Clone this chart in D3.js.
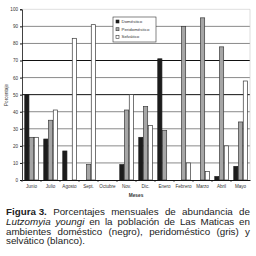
<!DOCTYPE html>
<html>
<head>
<meta charset="utf-8">
<script src="https://cdn.jsdelivr.net/npm/d3@7"></script>
<style>
  body { margin: 0; background: #fff; }
  svg { display: block; font-family: "Liberation Sans", Arial, sans-serif; }
</style>
</head>
<body>
<svg id="chart" width="256" height="256"></svg>
<script>
// monthly percentages
var months = ["Junio", "Julio", "Agosto", "Sept.", "Octubre", "Nov.", "Dic.", "Enero", "Febrero", "Marzo", "Abril", "Mayo"];
var seriesNames = ["Doméstico", "Peridoméstico", "Selvático"];
var domestico     = [50, 24, 17, 0, 0, 9, 25, 71, 0, 0, 2, 8];
var peridomestico = [25, 35, 0, 9, 0, 41, 43, 29, 90, 95, 78, 34];
var selvatico     = [25, 41, 83, 91, 0, 50, 32, 0, 10, 5, 20, 58];
var yTicks = [0, 10, 20, 30, 40, 50, 60, 70, 80, 90, 100];

var fills = ["#1c1c1c", "#a6a6a6", "#ffffff"];
var strokes = ["#1c1c1c", "#3a3a3a", "#3a3a3a"];
var values = [domestico, peridomestico, selvatico];

var svg = d3.select("#chart");
var plotL = 22, plotR = 250, plotT = 9.3, plotB = 180;

var x0 = d3.scaleBand().domain(months).range([plotL, plotR]).paddingInner(0.25).paddingOuter(0.125);
var x1 = d3.scaleBand().domain(d3.range(3)).range([0, x0.bandwidth()]);
var y = d3.scaleLinear().domain([0, 100]).range([plotB, plotT]);

// grid (the scan has a couple of darker lines)
var darkLines = [50, 70];
svg.append("g").selectAll("line").data(yTicks.filter(function(t) { return t > 0; }))
  .enter().append("line")
  .attr("x1", plotL).attr("x2", plotR)
  .attr("y1", function(d) { return y(d); }).attr("y2", function(d) { return y(d); })
  .attr("stroke", function(d) { return d == 100 ? "#c8c8c8" : (darkLines.indexOf(d) >= 0 ? "#111" : "#8a8a8a"); })
  .attr("stroke-width", function(d) { return d == 100 ? 0.6 : 1; });

svg.append("line").attr("x1", plotR).attr("x2", plotR).attr("y1", plotT).attr("y2", plotB)
  .attr("stroke", "#c8c8c8").attr("stroke-width", 0.6);

// bars
var groups = svg.append("g").selectAll("g").data(months).enter().append("g")
  .attr("transform", function(d) { return "translate(" + x0(d) + ",0)"; });

groups.selectAll("rect")
  .data(function(d, i) { return values.map(function(v, s) { return {s: s, v: v[i]}; }).filter(function(e) { return e.v > 0; }); })
  .enter().append("rect")
  .attr("x", function(d) { return x1(d.s) + 0.4; })
  .attr("width", x1.bandwidth() - 0.6)
  .attr("y", function(d) { return y(d.v); })
  .attr("height", function(d) { return y(0) - y(d.v); })
  .attr("fill", function(d) { return fills[d.s]; })
  .attr("stroke", function(d) { return strokes[d.s]; })
  .attr("stroke-width", 0.7);

// y axis
var yAxis = d3.axisLeft(y).tickValues(yTicks).tickSize(2).tickPadding(2);
var gy = svg.append("g").attr("transform", "translate(" + plotL + ",0)").call(yAxis);
gy.select(".domain").attr("stroke", "#111").attr("stroke-width", 0.8);
gy.selectAll(".tick line").attr("stroke", "#111");
gy.selectAll("text").attr("font-size", 4.6).attr("fill", "#333");

// x axis
var xAxis = d3.axisBottom(x0).tickSize(0).tickPadding(5);
var gx = svg.append("g").attr("transform", "translate(0," + plotB + ")").call(xAxis);
gx.select(".domain").attr("stroke", "#111").attr("stroke-width", 1);
gx.selectAll("text").attr("font-size", 4.6).attr("fill", "#333");
gx.selectAll(".sep").data(months).enter().append("line")
  .attr("class", "sep")
  .attr("x1", function(d) { return x0(d) - x0.step() * 0.125; })
  .attr("x2", function(d) { return x0(d) - x0.step() * 0.125; })
  .attr("y1", 0).attr("y2", 2).attr("stroke", "#111").attr("stroke-width", 0.7);

svg.append("text").attr("x", 136).attr("y", 197).attr("text-anchor", "middle")
  .attr("font-size", 4.8).attr("font-weight", "bold").attr("fill", "#333").text("Meses");
svg.append("text").attr("transform", "translate(8,95) rotate(-90)").attr("text-anchor", "middle")
  .attr("font-size", 4.6).attr("fill", "#333").text("Porcentaje");

// legend
var lg = svg.append("g").attr("transform", "translate(113,17)");
lg.append("rect").attr("width", 43).attr("height", 25).attr("fill", "#fff").attr("stroke", "#333").attr("stroke-width", 0.6);
seriesNames.forEach(function(name, i) {
  lg.append("rect").attr("x", 3).attr("y", 3 + i * 7.7).attr("width", 3).attr("height", 3)
    .attr("fill", fills[i]).attr("stroke", strokes[i]).attr("stroke-width", 0.6);
  lg.append("text").attr("x", 8.5).attr("y", 6 + i * 7.7).attr("font-size", 4.4).attr("fill", "#333").text(name);
});

// caption, justified word by word
var fs = 9.8;
var captionLines = [
  [{t: "Figura 3.", b: true}, {t: "Porcentajes"}, {t: "mensuales"}, {t: "de"}, {t: "abundancia"}, {t: "de"}],
  [{t: "Lutzomyia", i: true}, {t: "youngi", i: true}, {t: "en"}, {t: "la"}, {t: "población"}, {t: "de"}, {t: "Las"}, {t: "Maticas"}, {t: "en"}],
  [{t: "ambientes"}, {t: "doméstico"}, {t: "(negro),"}, {t: "peridoméstico"}, {t: "(gris)"}, {t: "y"}],
  [{t: "selvático"}, {t: "(blanco)."}]
];
var capY = [215, 225, 234.5, 244];
var capL = 6, capR = 250;
captionLines.forEach(function(words, li) {
  var g = svg.append("g");
  var nodes = words.map(function(w) {
    return g.append("text").attr("y", capY[li]).attr("font-size", fs).attr("fill", "#222")
      .attr("font-weight", w.b ? "bold" : null).attr("font-style", w.i ? "italic" : null).text(w.t);
  });
  var widths = nodes.map(function(n) { return n.node().getComputedTextLength(); });
  var total = d3.sum(widths);
  var justify = li < captionLines.length - 1;
  var gap = justify ? Math.max(1.5, (capR - capL - total) / (words.length - 1)) : fs * 0.28;
  var xx = capL;
  nodes.forEach(function(n, k) { n.attr("x", xx); xx += widths[k] + gap; });
});
</script>
</body>
</html>
